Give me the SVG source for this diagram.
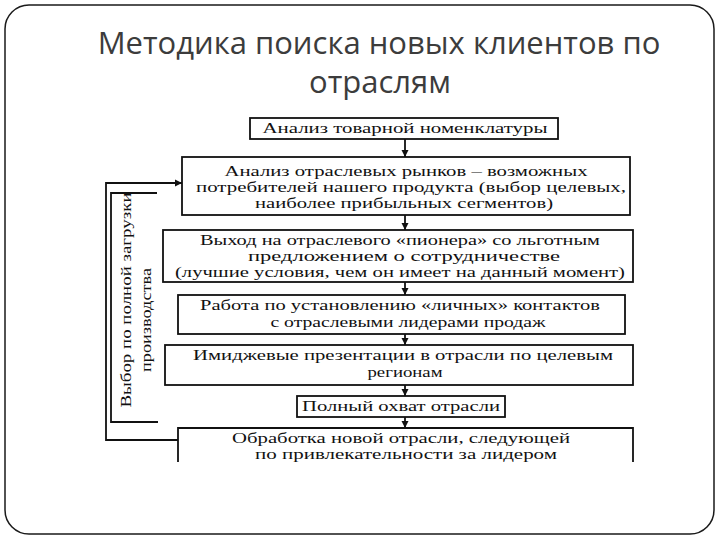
<svg xmlns="http://www.w3.org/2000/svg" width="720" height="540" viewBox="0 0 720 540">
<style>
.frame{fill:#fff;stroke:#1a1a1a;stroke-width:1.5}
.title{font-family:"Open Sans","Noto Sans",sans-serif;font-size:31px;fill:#3c3c3c;text-anchor:middle}
.box{fill:#fff;stroke:#111;stroke-width:1.8}
.t{font-family:"Liberation Serif","DejaVu Serif",serif;font-size:14px;fill:#111;text-anchor:middle}
.conn{fill:none;stroke:#111;stroke-width:1.8}
</style>
<defs>
<marker id="ah" viewBox="0 0 10 10" refX="10" refY="5" markerWidth="4" markerHeight="4" orient="auto" markerUnits="strokeWidth">
<path d="M0,0 L10,5 L0,10 z" fill="#111"/>
</marker>
</defs>
<rect class="frame" x="5" y="5" width="709" height="529" rx="24" ry="24"/>
<g id="title">
<text class="title" x="379" y="54">Методика поиска новых клиентов по</text>
<text class="title" x="380" y="93">отраслям</text>
</g>
<g id="n1">
<rect class="box" x="250" y="118" width="308" height="21"/>
<text class="t" x="405" y="133" textLength="285" lengthAdjust="spacingAndGlyphs">Анализ товарной номенклатуры</text>
</g>
<g id="n2">
<rect class="box" x="182" y="157" width="448" height="58"/>
<text class="t" x="406" y="176" textLength="363" lengthAdjust="spacingAndGlyphs">Анализ отраслевых рынков – возможных</text>
<text class="t" x="411" y="192" textLength="430" lengthAdjust="spacingAndGlyphs">потребителей нашего продукта (выбор целевых,</text>
<text class="t" x="404" y="208" textLength="298" lengthAdjust="spacingAndGlyphs">наиболее прибыльных сегментов)</text>
</g>
<g id="n3">
<rect class="box" x="163" y="230" width="470" height="52"/>
<text class="t" x="400" y="245" textLength="400" lengthAdjust="spacingAndGlyphs">Выход на отраслевого «пионера» со льготным</text>
<text class="t" x="404" y="261" textLength="312" lengthAdjust="spacingAndGlyphs">предложением о сотрудничестве</text>
<text class="t" x="400" y="277" textLength="450" lengthAdjust="spacingAndGlyphs">(лучшие условия, чем он имеет на данный момент)</text>
</g>
<g id="n4">
<rect class="box" x="178" y="295" width="447" height="39"/>
<text class="t" x="400" y="310" textLength="400" lengthAdjust="spacingAndGlyphs">Работа по установлению «личных» контактов</text>
<text class="t" x="408" y="327" textLength="275" lengthAdjust="spacingAndGlyphs">с отраслевыми лидерами продаж</text>
</g>
<g id="n5">
<rect class="box" x="165" y="345" width="468" height="40"/>
<text class="t" x="403" y="360" textLength="420" lengthAdjust="spacingAndGlyphs">Имиджевые презентации в отрасли по целевым</text>
<text class="t" x="405" y="377" textLength="75" lengthAdjust="spacingAndGlyphs">регионам</text>
</g>
<g id="n6">
<rect class="box" x="297" y="396" width="208" height="21"/>
<text class="t" x="401" y="411" textLength="198" lengthAdjust="spacingAndGlyphs">Полный охват отрасли</text>
</g>
<g id="n7">
<path class="box" d="M178,462 V428 H633 V462"/>
<text class="t" x="401" y="443" textLength="338" lengthAdjust="spacingAndGlyphs">Обработка новой отрасли, следующей</text>
<text class="t" x="406" y="459" textLength="302" lengthAdjust="spacingAndGlyphs">по привлекательности за лидером</text>
</g>
<g id="label">
<path class="box" d="M157,193 H111 V422 H158" fill="none"/>
<text class="t" transform="translate(131,300) rotate(-90)" textLength="215" lengthAdjust="spacingAndGlyphs">Выбор по полной загрузки</text>
<text class="t" transform="translate(151,320) rotate(-90)" textLength="104" lengthAdjust="spacingAndGlyphs">производства</text>
</g>
<g id="connectors">
<line class="conn" x1="405" y1="139" x2="405" y2="157" marker-end="url(#ah)"/>
<line class="conn" x1="405" y1="215" x2="405" y2="230" marker-end="url(#ah)"/>
<line class="conn" x1="405" y1="282" x2="405" y2="295" marker-end="url(#ah)"/>
<line class="conn" x1="405" y1="334" x2="405" y2="345" marker-end="url(#ah)"/>
<line class="conn" x1="405" y1="385" x2="405" y2="396" marker-end="url(#ah)"/>
<line class="conn" x1="405" y1="417" x2="405" y2="428" marker-end="url(#ah)"/>
<polyline class="conn" points="178,440 106,440 106,183 182,183" marker-end="url(#ah)"/>
</g>
</svg>
